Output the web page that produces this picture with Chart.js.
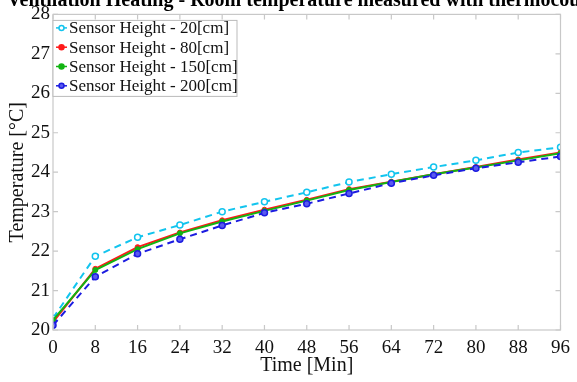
<!DOCTYPE html>
<html>
<head>
<meta charset="utf-8">
<script src="https://cdn.jsdelivr.net/npm/chart.js@4/dist/chart.umd.min.js"></script>
<style>
  html, body { margin: 0; padding: 0; background: #fff; }
  #wrap { width: 577px; height: 382px; }
</style>
</head>
<body>
<div id="wrap"><canvas id="chart"></canvas></div>
<script>
// Time axis (minutes)
const times = [0, 8, 16, 24, 32, 40, 48, 56, 64, 72, 80, 88, 96];

// Temperatures per sensor height
const h20 = [20.3, 21.87, 22.35, 22.66, 23.0, 23.25, 23.49, 23.75, 23.95, 24.13, 24.3, 24.5, 24.63];
const h80 = [20.2, 21.55, 22.1, 22.47, 22.78, 23.05, 23.3, 23.57, 23.76, 23.95, 24.13, 24.32, 24.5];
const h150 = [20.25, 21.52, 22.05, 22.45, 22.75, 23.02, 23.28, 23.55, 23.75, 23.95, 24.12, 24.3, 24.48];
const h200 = [20.12, 21.35, 21.93, 22.3, 22.65, 22.97, 23.2, 23.46, 23.72, 23.92, 24.1, 24.25, 24.4];

const seriesLabels = ['Sensor Height - 20[cm]', 'Sensor Height - 80[cm]', 'Sensor Height - 150[cm]', 'Sensor Height - 200[cm]'];

const serif = '"Liberation Serif", "DejaVu Serif", serif';

function points(values) {
  return times.map((t, i) => ({ x: t, y: values[i] }));
}

// Title clipped at top, box border, inward ticks and the legend box
const decorations = {
  id: 'decorations',
  afterDraw(chart) {
    const { ctx, chartArea: a, scales } = chart;
    ctx.save();

    // title, mostly cut off by the top edge
    ctx.fillStyle = '#000';
    ctx.font = 'bold 20px ' + serif;
    ctx.textAlign = 'left';
    ctx.textBaseline = 'alphabetic';
    ctx.fillText('Ventilation Heating - Room temperature measured with thermocouples', 7, 6);

    // axes box
    ctx.strokeStyle = '#c8c8c8';
    ctx.lineWidth = 1.2;
    ctx.strokeRect(a.left, a.top, a.right - a.left, a.bottom - a.top);

    // inward ticks
    ctx.beginPath();
    scales.x.ticks.forEach(t => {
      const px = scales.x.getPixelForValue(t.value);
      ctx.moveTo(px, a.bottom); ctx.lineTo(px, a.bottom - 5);
      ctx.moveTo(px, a.top); ctx.lineTo(px, a.top + 5);
    });
    scales.y.ticks.forEach(t => {
      const py = scales.y.getPixelForValue(t.value);
      ctx.moveTo(a.left, py); ctx.lineTo(a.left + 5, py);
      ctx.moveTo(a.right, py); ctx.lineTo(a.right - 5, py);
    });
    ctx.stroke();

    // legend
    const lx = a.left, ly = a.top + 6, lw = 184, lh = 76;
    ctx.fillStyle = '#fff';
    ctx.fillRect(lx, ly, lw, lh);
    ctx.strokeStyle = '#bbb';
    ctx.lineWidth = 1;
    ctx.strokeRect(lx, ly, lw, lh);
    ctx.font = '17px ' + serif;
    ctx.textBaseline = 'middle';
    chart.data.datasets.forEach((ds, i) => {
      const cy = ly + 7.5 + i * 19.3;
      ctx.strokeStyle = ds.borderColor;
      ctx.lineWidth = 1.5;
      ctx.setLineDash([]);
      ctx.beginPath();
      ctx.moveTo(lx + 3, cy); ctx.lineTo(lx + 14, cy);
      ctx.stroke();
      ctx.beginPath();
      ctx.arc(lx + 8.5, cy, 2.5, 0, Math.PI * 2);
      ctx.fillStyle = ds.pointBackgroundColor;
      ctx.fill();
      ctx.stroke();
      ctx.fillStyle = '#111';
      ctx.fillText(ds.label, lx + 16, cy + 1);
    });
    ctx.restore();
  }
};

new Chart(document.getElementById('chart'), {
  type: 'line',
  data: {
    datasets: [
      {
        label: seriesLabels[0],
        data: points(h20),
        order: 3,
        borderColor: '#12c4ee',
        backgroundColor: '#12c4ee',
        pointBackgroundColor: '#ffffff',
        borderDash: [7, 5],
        borderWidth: 2,
        pointRadius: 3,
        pointBorderWidth: 1.5,
      },
      {
        label: seriesLabels[1],
        data: points(h80),
        order: 2,
        borderColor: '#ff1a1a',
        backgroundColor: '#ff1a1a',
        pointBackgroundColor: '#ff1a1a',
        borderWidth: 2,
        pointRadius: 2.5,
        pointBorderWidth: 1,
      },
      {
        label: seriesLabels[2],
        data: points(h150),
        order: 1,
        borderColor: '#12b412',
        backgroundColor: '#12b412',
        pointBackgroundColor: '#12b412',
        borderWidth: 2,
        pointRadius: 2.5,
        pointBorderWidth: 1,
      },
      {
        label: seriesLabels[3],
        data: points(h200),
        order: 0,
        borderColor: '#1c1ce0',
        backgroundColor: '#1c1ce0',
        pointBackgroundColor: '#5a5af0',
        borderDash: [7, 5],
        borderWidth: 2,
        pointRadius: 3,
        pointBorderWidth: 1.5,
      },
    ],
  },
  options: {
    responsive: true,
    maintainAspectRatio: false,
    animation: false,
    layout: { padding: { top: 14, right: 12, left: 0, bottom: 0 } },
    plugins: {
      legend: { display: false },
      tooltip: { enabled: false },
    },
    scales: {
      x: {
        type: 'linear',
        min: 0,
        max: 96,
        ticks: { stepSize: 8, color: '#111', font: { family: serif, size: 19 }, padding: 7 },
        grid: { display: false, drawTicks: false },
        border: { display: false },
        title: { display: true, text: 'Time [Min]', color: '#111', font: { family: serif, size: 20 }, padding: { top: 0 } },
        afterFit(scale) { scale.height = 52; },
      },
      y: {
        min: 20,
        max: 28,
        ticks: { stepSize: 1, color: '#111', font: { family: serif, size: 19 }, padding: 3 },
        grid: { display: false, drawTicks: false },
        border: { display: false },
        title: { display: true, text: 'Temperature [°C]', color: '#111', font: { family: serif, size: 20 }, padding: { top: 6, bottom: 0 } },
        afterFit(scale) { scale.width = 53; },
      },
    },
  },
  plugins: [decorations],
});
</script>
</body>
</html>
